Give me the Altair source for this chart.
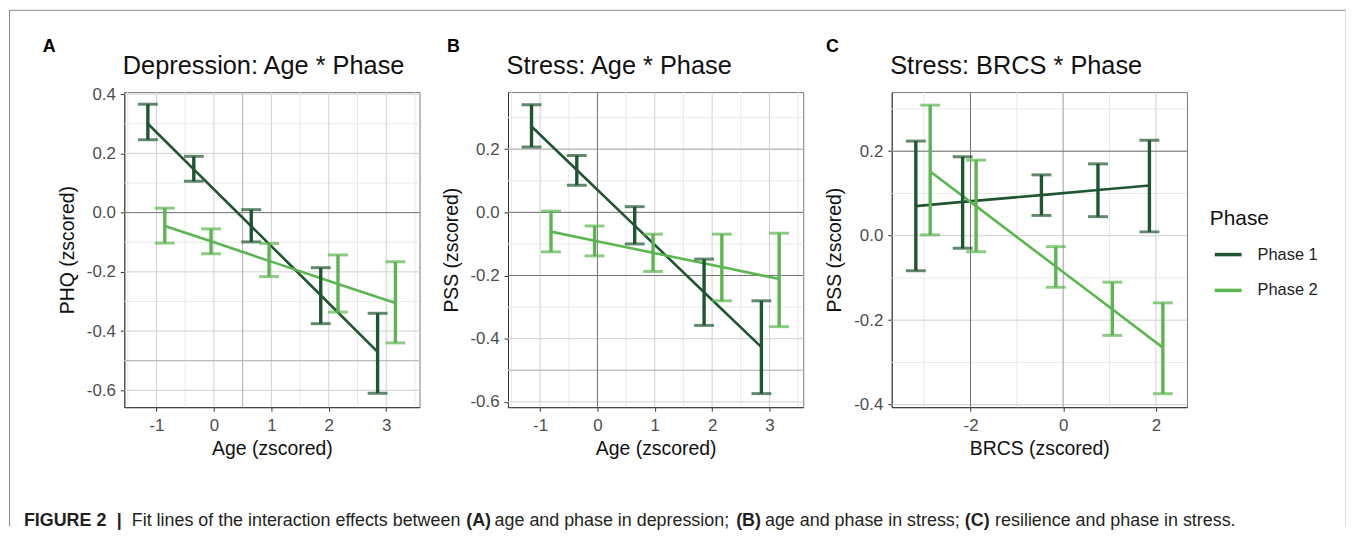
import altair as alt
import pandas as pd

FONT = "Liberation Sans"
C1 = "#1f5530"
C2 = "#5db551"
PHASES = ["Phase 1", "Phase 2"]

# ---------------- Panel A: Depression (PHQ) vs Age ----------------
A_x1 = [-1.15, -0.35, 0.65, 1.86, 2.85]
A_est1 = [0.300, 0.146, -0.046, -0.279, -0.470]
A_lo1 = [0.246, 0.106, -0.099, -0.375, -0.610]
A_hi1 = [0.366, 0.190, 0.010, -0.186, -0.340]
A_x2 = [-0.855, -0.05, 0.96, 2.16, 3.16]
A_est2 = [-0.045, -0.097, -0.163, -0.241, -0.305]
A_lo2 = [-0.103, -0.139, -0.216, -0.336, -0.440]
A_hi2 = [0.015, -0.055, -0.104, -0.143, -0.166]
A_xticks = [-1, 0, 1, 2, 3]
A_yticks = [-0.6, -0.4, -0.2, 0.0, 0.2, 0.4]
A_xminor = [-1.5, -0.5, 0.5, 1.5, 2.5, 3.5]
A_yminor = [-0.5, -0.3, -0.1, 0.1, 0.3]

# ---------------- Panel B: Stress (PSS) vs Age ----------------
B_x1 = [-1.15, -0.36, 0.65, 1.86, 2.86]
B_est1 = [0.272, 0.134, -0.042, -0.253, -0.427]
B_lo1 = [0.207, 0.086, -0.100, -0.358, -0.574]
B_hi1 = [0.341, 0.180, 0.018, -0.148, -0.280]
B_x2 = [-0.81, -0.05, 0.97, 2.17, 3.17]
B_est2 = [-0.061, -0.090, -0.128, -0.173, -0.211]
B_lo2 = [-0.125, -0.138, -0.187, -0.280, -0.362]
B_hi2 = [0.004, -0.043, -0.069, -0.069, -0.066]
B_xticks = [-1, 0, 1, 2, 3]
B_yticks = [-0.6, -0.4, -0.2, 0.0, 0.2]
B_xminor = [-1.5, -0.5, 0.5, 1.5, 2.5, 3.5]
B_yminor = [-0.5, -0.3, -0.1, 0.1, 0.3]

# ---------------- Panel C: Stress (PSS) vs BRCS ----------------
C_x1 = [-3.18, -2.17, -0.47, 0.75, 1.86]
C_est1 = [0.070, 0.080, 0.096, 0.108, 0.119]
C_lo1 = [-0.083, -0.030, 0.048, 0.045, 0.009]
C_hi1 = [0.224, 0.187, 0.144, 0.170, 0.226]
C_x2 = [-2.87, -1.88, -0.16, 1.06, 2.15]
C_est2 = [0.152, 0.070, -0.073, -0.174, -0.265]
C_lo2 = [0.002, -0.038, -0.122, -0.236, -0.374]
C_hi2 = [0.309, 0.179, -0.026, -0.110, -0.159]
C_xticks = [-2, 0, 2]
C_yticks = [-0.4, -0.2, 0.0, 0.2]
C_xminor = [-3, -1, 1]
C_yminor = [-0.3, -0.1, 0.1, 0.3]

CAPTION = [
    ("FIGURE 2", "bold", -101),
    ("|", "bold", -7.5),
    ("Fit lines of the interaction effects between", "normal", 7.5),
    ("(A)", "bold", 344),
    ("age and phase in depression;", "normal", 372.5),
    ("(B)", "bold", 615.5),
    ("age and phase in stress;", "normal", 644.5),
    ("(C)", "bold", 845.5),
    ("resilience and phase in stress.", "normal", 876),
]


def make_df(x1, e1, l1, h1, x2, e2, l2, h2):
    rows = []
    for ph, xs, es, ls, hs in [("Phase 1", x1, e1, l1, h1), ("Phase 2", x2, e2, l2, h2)]:
        for x, e, l, h in zip(xs, es, ls, hs):
            rows.append({"x": x, "est": e, "lo": l, "hi": h, "phase": ph})
    return pd.DataFrame(rows)


def lab_expr(fmt):
    return "replace(format(datum.value, '%s'), '\u2212', '-')" % fmt


def text_layer(txt, x, y, size, weight="normal", color="#111111"):
    return alt.Chart(pd.DataFrame({"t": [txt]})).mark_text(
        font=FONT, fontSize=size, fontWeight=weight, align="left", baseline="alphabetic",
        color=color).encode(text="t:N", x=alt.value(x), y=alt.value(y))


def panel(df, xdom, ydom, xt, yt, xm, ym, title, xtitle, ytitle, label, label_x,
          legend=None, dark_x=(), dark_y=(), med_x=(), med_y=(), extra=()):
    xs = alt.Scale(domain=xdom, nice=False, zero=False)
    ys = alt.Scale(domain=ydom, nice=False, zero=False)
    xaxis = alt.Axis(values=xt, title=xtitle, grid=False, labelExpr=lab_expr("d"))
    yaxis = alt.Axis(values=yt, title=ytitle, grid=False, labelExpr=lab_expr(".1f"))
    layers = []

    def vgrid(vals, color, w=1.0):
        return alt.Chart(pd.DataFrame({"v": list(vals)})).mark_rule(
            color=color, strokeWidth=w).encode(x=alt.X("v:Q", scale=xs, axis=xaxis))

    def hgrid(vals, color, w=1.0):
        return alt.Chart(pd.DataFrame({"v": list(vals)})).mark_rule(
            color=color, strokeWidth=w).encode(y=alt.Y("v:Q", scale=ys, axis=yaxis))

    layers += [vgrid(xm, "#e9e9e9"), hgrid(ym, "#e9e9e9")]
    layers += [vgrid(xt, "#d0d0d0"), hgrid(yt, "#d0d0d0")]
    if len(med_x):
        layers.append(vgrid(med_x, "#b0b0b0"))
    if len(med_y):
        layers.append(hgrid(med_y, "#b0b0b0"))
    if len(dark_x):
        layers.append(vgrid(dark_x, "#767676"))
    if len(dark_y):
        layers.append(hgrid(dark_y, "#767676"))

    color = alt.Color("phase:N", scale=alt.Scale(domain=PHASES, range=[C1, C2]), legend=legend)
    base = alt.Chart(df)
    X = alt.X("x:Q", scale=xs, axis=xaxis)
    line = base.mark_line(strokeWidth=2.6).encode(
        x=X, y=alt.Y("est:Q", scale=ys, axis=yaxis), color=color)
    bars = base.mark_rule(strokeWidth=3.4).encode(
        x=X, y=alt.Y("lo:Q", scale=ys, axis=yaxis), y2="hi:Q", color=color)
    cap_lo = base.mark_tick(orient="horizontal", size=20, thickness=3).encode(
        x=X, y=alt.Y("lo:Q", scale=ys, axis=yaxis), color=color)
    cap_hi = base.mark_tick(orient="horizontal", size=20, thickness=3).encode(
        x=X, y=alt.Y("hi:Q", scale=ys, axis=yaxis), color=color)
    layers += [line, bars, cap_lo, cap_hi]

    layers.append(text_layer(label, label_x, -40.7, 18, "bold", "#000000"))
    layers.append(text_layer(title, -1.5, -17.7, 25.5, "normal", "#111111"))
    layers += list(extra)

    return alt.layer(*layers).properties(width=297, height=317)


# decorations (frame and caption) attached to panel A, whose plot origin is (125, 90.7) on the page
frame_top = alt.Chart(pd.DataFrame({"k": [0]})).mark_rule(color="#8a8a8a", strokeWidth=1).encode(
    x=alt.value(-115.5), x2=alt.value(1229), y=alt.value(-82.2))
frame_left = alt.Chart(pd.DataFrame({"k": [0]})).mark_rule(color="#8a8a8a", strokeWidth=1).encode(
    x=alt.value(-115.5), y=alt.value(-82.2), y2=alt.value(437))
frame_right = alt.Chart(pd.DataFrame({"k": [0]})).mark_rule(color="#dddddd", strokeWidth=1).encode(
    x=alt.value(1228.5), y=alt.value(-82.2), y2=alt.value(437))
caption_layers = [text_layer(txt, xo, 436.6, 18, wt, "#231f20") for txt, wt, xo in CAPTION]

dfA = make_df(A_x1, A_est1, A_lo1, A_hi1, A_x2, A_est2, A_lo2, A_hi2)
dfB = make_df(B_x1, B_est1, B_lo1, B_hi1, B_x2, B_est2, B_lo2, B_hi2)
dfC = make_df(C_x1, C_est1, C_lo1, C_hi1, C_x2, C_est2, C_lo2, C_hi2)

pA = panel(dfA, [-1.56, 3.58], [-0.657, 0.407], A_xticks, A_yticks, A_xminor, A_yminor,
           "Depression: Age * Phase", "Age (zscored)", "PHQ (zscored)", "A", -82,
           dark_y=[0.0], med_y=[-0.5], med_x=[0.5],
           extra=[frame_top, frame_left, frame_right] + caption_layers)
pB = panel(dfB, [-1.56, 3.59], [-0.617, 0.381], B_xticks, B_yticks, B_xminor, B_yminor,
           "Stress: Age * Phase", "Age (zscored)", "PSS (zscored)", "B", -61.5,
           dark_x=[0.0], dark_y=[0.0, -0.2], med_y=[0.2, -0.5])

leg = alt.Legend(orient="none", legendX=320, legendY=117, title="Phase", titleFont=FONT,
                 titleFontSize=21, titleFontWeight="normal", titleColor="#111111",
                 titlePadding=10, labelFont=FONT, labelFontSize=16.5, labelColor="#222222",
                 symbolType="stroke", symbolSize=729, symbolStrokeWidth=3.5, symbolOpacity=1,
                 labelOffset=14, rowPadding=12, symbolOffset=3, padding=0)
pC = panel(dfC, [-3.70, 2.67], [-0.406, 0.340], C_xticks, C_yticks, C_xminor, C_yminor,
           "Stress: BRCS * Phase", "BRCS (zscored)", "PSS (zscored)", "C", -66,
           legend=leg, dark_x=[-2.0], dark_y=[0.2], med_x=[0.0])

chart = alt.HConcatChart(hconcat=[pA, pB, pC], spacing=89, bounds="flush").resolve_scale(
    color="independent", x="independent", y="independent"
).resolve_legend(color="independent").properties(
    padding={"left": 0, "top": -1, "right": 0, "bottom": 0},
    background="white",
).configure_view(
    stroke="#7a7a7a", strokeWidth=1
).configure_axis(
    labelFont=FONT, labelFontSize=17, labelColor="#4d4d4d",
    titleFont=FONT, titleFontSize=19.5, titleFontWeight="normal", titleColor="#111111",
    domainColor="#333333", domainWidth=1, tickColor="#333333", tickSize=4, tickWidth=1,
    labelPadding=5,
).configure_axisX(titlePadding=7, labelPadding=6).configure_axisY(titlePadding=9)

chart.save("out.html", embed_options={"renderer": "svg", "actions": False})
